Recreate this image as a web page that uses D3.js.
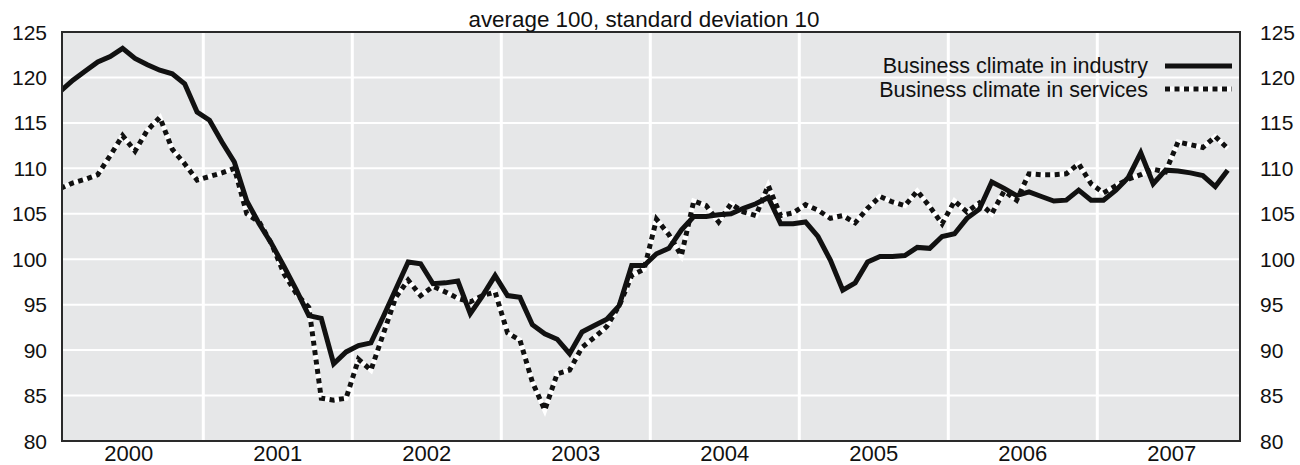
<!DOCTYPE html>
<html>
<head>
<meta charset="utf-8">
<script src="https://cdn.jsdelivr.net/npm/d3@7"></script>
<style>
  html, body { margin: 0; padding: 0; background: #ffffff; }
  svg { display: block; font-family: "Liberation Sans", Arial, Helvetica, sans-serif; }
</style>
</head>
<body>
<svg id="chart" width="1300" height="465"></svg>
<script>
// ---- data (monthly, Jan 2000 – Nov 2007) ----
const startYear = 2000;
const industry = [
  118.5, 119.7, 120.7, 121.7, 122.3, 123.2, 122.1, 121.4, 120.8, 120.4, 119.3, 116.2,
  115.3, 112.9, 110.7, 106.4, 103.9, 101.7, 99.2, 96.6, 93.8, 93.5, 88.5, 89.8,
  90.5, 90.8, 93.7, 96.7, 99.7, 99.5, 97.3, 97.4, 97.6, 94.0, 96.0, 98.2,
  96.0, 95.8, 92.8, 91.8, 91.2, 89.6, 92.0, 92.7, 93.4, 94.9, 99.3, 99.3,
  100.6, 101.2, 103.2, 104.7, 104.7, 104.9, 105.0, 105.6, 106.1, 106.8, 103.9, 103.9,
  104.1, 102.5, 99.9, 96.6, 97.4, 99.7, 100.3, 100.3, 100.4, 101.3, 101.2, 102.5,
  102.8, 104.5, 105.5, 108.5, 107.8, 107.0, 107.4, 106.9, 106.4, 106.5, 107.6, 106.5,
  106.5, 107.6, 109.0, 111.7, 108.3, 109.8, 109.7, 109.5, 109.2, 108.0, 109.8
];
const services = [
  107.8, 108.4, 108.8, 109.3, 111.4, 113.6, 111.9, 114.2, 115.6, 112.1, 110.5, 108.7,
  109.1, 109.5, 110.0, 105.0, 104.1, 101.7, 98.4, 96.2, 94.7, 84.7, 84.5, 84.7,
  89.0, 87.8, 91.8, 95.8, 97.7, 96.0, 97.0, 96.4, 95.7, 95.3, 96.0, 96.4,
  91.9, 91.1, 86.5, 83.4, 87.4, 87.8, 90.3, 91.4, 92.6, 94.9, 98.2, 98.9,
  104.4, 102.7, 100.4, 106.4, 105.9, 104.1, 106.1, 105.2, 104.8, 108.1, 104.8, 105.1,
  106.0, 105.4, 104.5, 104.8, 104.0, 105.6, 106.9, 106.3, 105.9, 107.5, 105.8, 103.9,
  106.4, 105.2, 106.2, 105.0, 107.5, 106.5, 109.4, 109.3, 109.3, 109.4, 110.5, 108.3,
  107.3, 108.1, 108.8, 109.3, 109.9, 109.6, 112.9, 112.6, 112.3, 113.5, 112.2
];
const yearLabels = ["2000", "2001", "2002", "2003", "2004", "2005", "2006", "2007"];
const yTicks = [80, 85, 90, 95, 100, 105, 110, 115, 120, 125];
const titleText = "average 100, standard deviation 10";
const legendLabels = ["Business climate in industry", "Business climate in services"];

// ---- layout ----
const plot = { left: 62, right: 1240, top: 32, bottom: 441 };
const svg = d3.select("#chart");

const x = d3.scaleLinear().domain([2000, 2008]).range([54.3, 1246.3]);
const y = d3.scaleLinear().domain([80, 125]).range([plot.bottom, plot.top]);
const tOf = i => startYear + (i + 0.5) / 12;

// background
svg.append("rect")
  .attr("x", plot.left).attr("y", plot.top)
  .attr("width", plot.right - plot.left).attr("height", plot.bottom - plot.top)
  .attr("fill", "#e6e7e8");

// clip
svg.append("clipPath").attr("id", "clip").append("rect")
  .attr("x", plot.left).attr("y", plot.top)
  .attr("width", plot.right - plot.left).attr("height", plot.bottom - plot.top);

// horizontal gridlines
svg.append("g").selectAll("line").data(yTicks.filter(v => v > 80 && v < 125)).join("line")
  .attr("x1", plot.left).attr("x2", plot.right)
  .attr("y1", d => y(d)).attr("y2", d => y(d))
  .attr("stroke", "#ffffff").attr("stroke-width", 2);

// vertical year separators
const seps = d3.range(2001, 2008);
svg.append("g").selectAll("line").data(seps).join("line")
  .attr("x1", d => x(d)).attr("x2", d => x(d))
  .attr("y1", plot.top).attr("y2", plot.bottom)
  .attr("stroke", "#ffffff").attr("stroke-width", 3);

// lines
const line = d3.line().x((d, i) => x(tOf(i))).y(d => y(d));
const g = svg.append("g").attr("clip-path", "url(#clip)");
g.append("path").datum(services).attr("d", line)
  .attr("fill", "none").attr("stroke", "#ffffff").attr("stroke-width", 5);
g.append("path").datum(services).attr("d", line)
  .attr("fill", "none").attr("stroke", "#111111").attr("stroke-width", 5)
  .attr("stroke-dasharray", "5,4.5");
g.append("path").datum(industry).attr("d", line)
  .attr("fill", "none").attr("stroke", "#111111").attr("stroke-width", 5)
  .attr("stroke-linejoin", "miter");

// frame
svg.append("rect")
  .attr("x", plot.left).attr("y", plot.top)
  .attr("width", plot.right - plot.left).attr("height", plot.bottom - plot.top)
  .attr("fill", "none").attr("stroke", "#2a2a2a").attr("stroke-width", 2);

// y tick labels (left and right)
const tfs = 21;
svg.append("g").selectAll("text").data(yTicks).join("text")
  .attr("x", 47).attr("y", d => y(d)).attr("dy", "0.36em")
  .attr("text-anchor", "end").attr("font-size", tfs).attr("fill", "#111")
  .text(d => d);
svg.append("g").selectAll("text").data(yTicks).join("text")
  .attr("x", 1260).attr("y", d => y(d)).attr("dy", "0.36em")
  .attr("text-anchor", "start").attr("font-size", tfs).attr("fill", "#111")
  .text(d => d);

// year labels
const fs = 22;
svg.append("g").selectAll("text").data(yearLabels).join("text")
  .attr("x", (d, i) => x(startYear + i + 0.5)).attr("y", 461)
  .attr("text-anchor", "middle").attr("font-size", fs).attr("fill", "#111")
  .text(d => d);

// title
svg.append("text").attr("x", 644).attr("y", 27)
  .attr("text-anchor", "middle").attr("font-size", 22.4).attr("fill", "#111")
  .text(titleText);

// legend
const lfs = 21.5;
const lg = svg.append("g");
lg.append("text").attr("x", 1148).attr("y", 73).attr("text-anchor", "end")
  .attr("font-size", lfs).attr("fill", "#111").text(legendLabels[0]);
lg.append("text").attr("x", 1148).attr("y", 97).attr("text-anchor", "end")
  .attr("font-size", lfs).attr("fill", "#111").text(legendLabels[1]);
lg.append("line").attr("x1", 1165).attr("x2", 1232).attr("y1", 66).attr("y2", 66)
  .attr("stroke", "#111").attr("stroke-width", 5);
lg.append("line").attr("x1", 1165).attr("x2", 1232).attr("y1", 89).attr("y2", 89)
  .attr("stroke", "#fff").attr("stroke-width", 5);
lg.append("line").attr("x1", 1165).attr("x2", 1232).attr("y1", 89).attr("y2", 89)
  .attr("stroke", "#111").attr("stroke-width", 5).attr("stroke-dasharray", "5,4.5");
</script>
</body>
</html>
